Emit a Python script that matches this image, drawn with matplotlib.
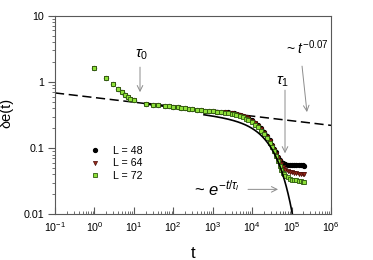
import numpy as np
import matplotlib
matplotlib.use("Agg")
import matplotlib.pyplot as plt
from matplotlib.ticker import FixedLocator, FixedFormatter, LogLocator, NullFormatter

plt.rcParams['font.family'] = ['Liberation Sans', 'DejaVu Sans']
plt.rcParams['mathtext.fontset'] = 'custom'
plt.rcParams['mathtext.rm'] = 'Liberation Sans'
plt.rcParams['mathtext.it'] = 'Liberation Sans:italic'

# early part, the three sizes lie on top of each other
t_head = [1, 2, 3, 4, 5, 6, 7, 8, 10, 20, 30, 40, 60, 80, 100, 130, 160, 200,
          250, 300, 400, 500, 650, 800, 1000]
de_head = [1.62, 1.15, 0.93, 0.79, 0.71, 0.64, 0.59, 0.56, 0.535, 0.47, 0.455,
           0.445, 0.435, 0.428, 0.42, 0.413, 0.406, 0.40, 0.394, 0.389, 0.381,
           0.375, 0.369, 0.364, 0.36]

t_tail = [1300, 1600, 2000, 2500, 3000, 3500, 4000, 5000, 6000, 7000, 8000,
          10000, 12000, 14000, 17000, 20000, 24000, 28000, 32000, 36000, 40000,
          45000, 50000, 55000, 60000, 65000, 70000, 80000, 90000, 100000,
          115000, 130000, 150000, 170000, 190000, 210000]
de_L48 = [0.357, 0.354, 0.352, 0.348, 0.343, 0.338, 0.332, 0.32, 0.308, 0.296,
          0.285, 0.262, 0.242, 0.223, 0.198, 0.176, 0.152, 0.131, 0.113, 0.098,
          0.086, 0.074, 0.067, 0.062, 0.059, 0.058, 0.057, 0.056, 0.056, 0.056,
          0.055, 0.056, 0.056, 0.055, 0.055, 0.054]
de_L64 = [0.355, 0.351, 0.348, 0.343, 0.338, 0.333, 0.327, 0.315, 0.303, 0.291,
          0.28, 0.257, 0.237, 0.218, 0.193, 0.171, 0.147, 0.126, 0.108, 0.093,
          0.081, 0.07, 0.063, 0.057, 0.052, 0.049, 0.047, 0.045, 0.044, 0.043,
          0.042, 0.042, 0.041, 0.041, 0.040, 0.040]
de_L72 = [0.35, 0.345, 0.34, 0.334, 0.328, 0.322, 0.316, 0.303, 0.29, 0.278,
          0.267, 0.245, 0.226, 0.208, 0.184, 0.163, 0.14, 0.12, 0.103, 0.089,
          0.077, 0.064, 0.054, 0.047, 0.042, 0.040, 0.038, 0.036, 0.0345,
          0.0335, 0.033, 0.0325, 0.032, 0.0315, 0.031, 0.031]

# guide lines: ~ t^-0.07 and ~ t^-0.07 exp(-t/tau1)
pow_amp, pow_exp = 0.58, -0.07
exp_amp, tau1 = 0.508, 33600.0

fig = plt.figure(figsize=(3.73, 2.60), dpi=100)
ax = fig.add_axes([0.1475, 0.1758, 0.74, 0.7638])
ax.set_xscale('log')
ax.set_yscale('log')
ax.set_xlim(0.1, 1e6)
ax.set_ylim(0.01, 10)

tp = np.logspace(-1, 6, 200)
ax.plot(tp, pow_amp * tp ** pow_exp, color='black', lw=1.1, ls=(0, (6, 3)), zorder=2)
te = np.logspace(np.log10(600), np.log10(1.3e5), 300)
ax.plot(te, exp_amp * te ** pow_exp * np.exp(-te / tau1), color='black', lw=1.2, zorder=6)

series = [
    ('L = 48', de_L48, dict(marker='o', color='black', mfc='black', mec='black', ms=2.8), 2.4),
    ('L = 64', de_L64, dict(marker='v', color='#8a1c14', mfc='#9a2a1a', mec='#4a0c08', ms=3.0, mew=0.5), 1.6),
    ('L = 72', de_L72, dict(marker='s', color='#2f6a12', mfc='#8ee03a', mec='#2f5a10', ms=2.4, mew=0.6), 0),
]
for i, (lab, tail, style, lw) in enumerate(series):
    tt = t_head + t_tail
    vv = de_head + tail
    if i == 0:
        # L = 48 points are dense enough to read as a band
        ax.plot(tt[9:], vv[9:], color='black', lw=1.8, zorder=3)
    if lw > 0:
        ax.plot(t_tail, tail, color=style['color'], lw=lw, zorder=3 + i)
    ax.plot(tt, vv, ls='none', label=lab, zorder=3 + i, **style)

arrow = dict(arrowstyle='->', color='0.55', lw=0.7, shrinkA=0, shrinkB=0)
ax.text(16, 2.6, r'$\tau_0$', fontsize=11, ha='center', va='center')
ax.annotate('', xy=(14.3, 0.70), xytext=(14.3, 1.67), arrowprops=arrow)
ax.text(60000, 1.0, r'$\tau_1$', fontsize=11, ha='center', va='center')
ax.annotate('', xy=(68000, 0.0835), xytext=(68000, 0.75), arrowprops=arrow)
ax.text(2.45e5, 3.34, r'~ $t^{-0.07}$', fontsize=10, ha='center', va='center')
ax.annotate('', xy=(2.45e5, 0.35), xytext=(1.84e5, 1.73), arrowprops=arrow)
ax.text(1280, 0.0247, r'~ $e^{-t/\tau_l}$', fontsize=12, ha='center', va='center')
ax.annotate('', xy=(45300, 0.0238), xytext=(7850, 0.0238), arrowprops=arrow)

ax.legend(loc='upper left', bbox_to_anchor=(0.125, 0.345), frameon=False,
          fontsize=7.7, handlelength=1.0, handletextpad=1.2, labelspacing=0.25,
          borderpad=0, borderaxespad=0, markerscale=1.0)

ax.xaxis.set_major_locator(LogLocator(base=10, numticks=20))
ax.xaxis.set_minor_locator(LogLocator(base=10, subs=np.arange(2, 10), numticks=20))
ax.xaxis.set_minor_formatter(NullFormatter())
ax.yaxis.set_major_locator(FixedLocator([0.01, 0.1, 1, 10]))
ax.yaxis.set_major_formatter(FixedFormatter(['0.01', '0.1', '1', '10']))
ax.yaxis.set_minor_locator(LogLocator(base=10, subs=np.arange(2, 10), numticks=20))
ax.yaxis.set_minor_formatter(NullFormatter())

ax.tick_params(axis='x', which='both', direction='in', top=False, labelsize=7.7, pad=4, color='0.35')
ax.tick_params(axis='x', which='major', length=5)
ax.tick_params(axis='x', which='minor', length=2.5)
ax.tick_params(axis='y', which='both', direction='out', right=False, labelsize=7.7, pad=3, color='0.35')
ax.tick_params(axis='y', which='major', length=5)
ax.tick_params(axis='y', which='minor', length=2.5)
for s in ax.spines.values():
    s.set_color('0.35')
    s.set_linewidth(0.8)

ax.set_xlabel('t', fontsize=12)
ax.set_ylabel(r'δe(t)', fontsize=10.5)
ax.xaxis.set_label_coords(0.5, -0.16)
ax.yaxis.set_label_coords(-0.15, 0.51)

fig.savefig('out.png', dpi=100)
